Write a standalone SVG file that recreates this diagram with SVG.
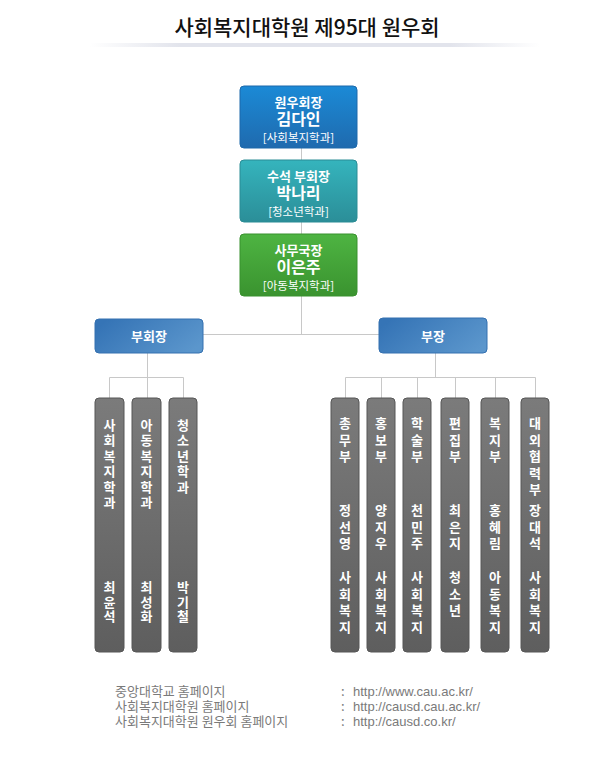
<svg xmlns="http://www.w3.org/2000/svg" width="612" height="763" viewBox="0 0 612 763">
<defs>
<linearGradient id="gBlue" x1="0" y1="0" x2="0" y2="1"><stop offset="0" stop-color="#1b8ad6"/><stop offset="1" stop-color="#1f6aae"/></linearGradient>
<linearGradient id="gTeal" x1="0" y1="0" x2="0" y2="1"><stop offset="0" stop-color="#35b4bd"/><stop offset="1" stop-color="#2b8e98"/></linearGradient>
<linearGradient id="gGreen" x1="0" y1="0" x2="0" y2="1"><stop offset="0" stop-color="#4eb442"/><stop offset="1" stop-color="#3a932f"/></linearGradient>
<linearGradient id="gVice" x1="0" y1="0.3" x2="1" y2="0.7"><stop offset="0" stop-color="#3574b6"/><stop offset="1" stop-color="#5b96cc"/></linearGradient>
<linearGradient id="gBar" x1="0" y1="0" x2="0" y2="1"><stop offset="0" stop-color="#7b7b7b"/><stop offset="1" stop-color="#5e5e5e"/></linearGradient>
<linearGradient id="gShadow" x1="0" y1="0" x2="1" y2="0"><stop offset="0" stop-color="#e2e4ec" stop-opacity="0"/><stop offset="0.2" stop-color="#e2e4ec"/><stop offset="0.8" stop-color="#e2e4ec"/><stop offset="1" stop-color="#e2e4ec" stop-opacity="0"/></linearGradient>
</defs>
<style>
text{font-family:"Noto Sans CJK KR","Noto Sans",sans-serif;}
.w{fill:#ffffff;text-anchor:middle;}
.l1{font-size:13px;font-weight:bold;}
.l2{font-size:16px;font-weight:bold;}
.l3{font-size:11.5px;}
.bar{fill:url(#gBar);stroke:#575757;stroke-width:1;}
.vt{fill:#ffffff;text-anchor:middle;font-size:13px;font-weight:bold;}
.conn{stroke:#c8c8c8;stroke-width:1;fill:none;}
.ft{fill:#7a7a7a;font-size:13px;}
.url{font-family:"Liberation Sans",sans-serif;font-size:13px;}
</style>
<rect x="0" y="0" width="612" height="763" fill="#ffffff"/>
<rect x="90" y="43" width="450" height="4" fill="url(#gShadow)"/>
<text x="307" y="35" text-anchor="middle" font-size="21" font-weight="500" fill="#111111">사회복지대학원 제95대 원우회</text>

<g id="connectors">
<line class="conn" x1="301.5" y1="148" x2="301.5" y2="160"/>
<line class="conn" x1="301.5" y1="222" x2="301.5" y2="234"/>
<line class="conn" x1="301.5" y1="296" x2="301.5" y2="334.5"/>
<line class="conn" x1="203" y1="334.5" x2="379" y2="334.5"/>
<line class="conn" x1="147.5" y1="353" x2="147.5" y2="398"/>
<line class="conn" x1="109.5" y1="377.5" x2="183.5" y2="377.5"/>
<line class="conn" x1="109.5" y1="377.5" x2="109.5" y2="398"/>
<line class="conn" x1="183.5" y1="377.5" x2="183.5" y2="398"/>
<line class="conn" x1="435.5" y1="353" x2="435.5" y2="377.5"/>
<line class="conn" x1="345.5" y1="377.5" x2="535.5" y2="377.5"/>
<line class="conn" x1="345.5" y1="377.5" x2="345.5" y2="398"/>
<line class="conn" x1="381.5" y1="377.5" x2="381.5" y2="398"/>
<line class="conn" x1="417.5" y1="377.5" x2="417.5" y2="398"/>
<line class="conn" x1="455.5" y1="377.5" x2="455.5" y2="398"/>
<line class="conn" x1="495.5" y1="377.5" x2="495.5" y2="398"/>
<line class="conn" x1="535.5" y1="377.5" x2="535.5" y2="398"/>
</g>

<g id="president">
<rect x="240" y="86" width="117" height="62" rx="4" fill="url(#gBlue)" stroke="#1d69ab"/>
<text class="w l1" x="298.5" y="107">원우회장</text>
<text class="w l2" x="298.5" y="125">김다인</text>
<text class="w l3" x="298.5" y="141.5">[사회복지학과]</text>
</g>
<g id="senior-vice">
<rect x="240" y="160" width="117" height="62" rx="4" fill="url(#gTeal)" stroke="#2a8c95"/>
<text class="w l1" x="298.5" y="181">수석 부회장</text>
<text class="w l2" x="298.5" y="199">박나리</text>
<text class="w l3" x="298.5" y="215.5">[청소년학과]</text>
</g>
<g id="secretary-general">
<rect x="240" y="234" width="117" height="62" rx="4" fill="url(#gGreen)" stroke="#39912e"/>
<text class="w l1" x="298.5" y="255">사무국장</text>
<text class="w l2" x="298.5" y="273">이은주</text>
<text class="w l3" x="298.5" y="289.5">[아동복지학과]</text>
</g>

<g id="vice-presidents">
<rect x="95" y="319" width="108" height="34" rx="4" fill="url(#gVice)" stroke="#3470b0"/>
<text class="w l1" x="149" y="340.5">부회장</text>
</g>
<g id="department-heads">
<rect x="379" y="318" width="108" height="35" rx="4" fill="url(#gVice)" stroke="#3470b0"/>
<text class="w l1" x="433" y="340.5">부장</text>
</g>

<g id="vp-social">
<rect class="bar" x="95" y="398" width="29" height="254" rx="4"/>
<text class="vt"><tspan x="109.5" y="430">사</tspan><tspan x="109.5" dy="15.4">회</tspan><tspan x="109.5" dy="15.4">복</tspan><tspan x="109.5" dy="15.4">지</tspan><tspan x="109.5" dy="15.4">학</tspan><tspan x="109.5" dy="15.4">과</tspan></text>
<text class="vt"><tspan x="109.5" y="592">최</tspan><tspan x="109.5" dy="14.5">윤</tspan><tspan x="109.5" dy="14.5">석</tspan></text>
</g>
<g id="vp-child">
<rect class="bar" x="132" y="398" width="29" height="254" rx="4"/>
<text class="vt"><tspan x="146.5" y="430">아</tspan><tspan x="146.5" dy="15.4">동</tspan><tspan x="146.5" dy="15.4">복</tspan><tspan x="146.5" dy="15.4">지</tspan><tspan x="146.5" dy="15.4">학</tspan><tspan x="146.5" dy="15.4">과</tspan></text>
<text class="vt"><tspan x="146.5" y="592">최</tspan><tspan x="146.5" dy="14.5">성</tspan><tspan x="146.5" dy="14.5">화</tspan></text>
</g>
<g id="vp-youth">
<rect class="bar" x="169" y="398" width="28" height="254" rx="4"/>
<text class="vt"><tspan x="183" y="430">청</tspan><tspan x="183" dy="15.4">소</tspan><tspan x="183" dy="15.4">년</tspan><tspan x="183" dy="15.4">학</tspan><tspan x="183" dy="15.4">과</tspan></text>
<text class="vt"><tspan x="183" y="592">박</tspan><tspan x="183" dy="14.5">기</tspan><tspan x="183" dy="14.5">철</tspan></text>
</g>

<g id="dept-general">
<rect class="bar" x="331" y="398" width="28" height="254" rx="4"/>
<text class="vt"><tspan x="345" y="428">총</tspan><tspan x="345" dy="16.7">무</tspan><tspan x="345" dy="16.7">부</tspan></text>
<text class="vt"><tspan x="345" y="515">정</tspan><tspan x="345" dy="16.7">선</tspan><tspan x="345" dy="16.7">영</tspan></text>
<text class="vt"><tspan x="345" y="582">사</tspan><tspan x="345" dy="16.7">회</tspan><tspan x="345" dy="16.7">복</tspan><tspan x="345" dy="16.7">지</tspan></text>
</g>
<g id="dept-pr">
<rect class="bar" x="367" y="398" width="28" height="254" rx="4"/>
<text class="vt"><tspan x="381" y="428">홍</tspan><tspan x="381" dy="16.7">보</tspan><tspan x="381" dy="16.7">부</tspan></text>
<text class="vt"><tspan x="381" y="515">양</tspan><tspan x="381" dy="16.7">지</tspan><tspan x="381" dy="16.7">우</tspan></text>
<text class="vt"><tspan x="381" y="582">사</tspan><tspan x="381" dy="16.7">회</tspan><tspan x="381" dy="16.7">복</tspan><tspan x="381" dy="16.7">지</tspan></text>
</g>
<g id="dept-academic">
<rect class="bar" x="403" y="398" width="28" height="254" rx="4"/>
<text class="vt"><tspan x="417" y="428">학</tspan><tspan x="417" dy="16.7">술</tspan><tspan x="417" dy="16.7">부</tspan></text>
<text class="vt"><tspan x="417" y="515">천</tspan><tspan x="417" dy="16.7">민</tspan><tspan x="417" dy="16.7">주</tspan></text>
<text class="vt"><tspan x="417" y="582">사</tspan><tspan x="417" dy="16.7">회</tspan><tspan x="417" dy="16.7">복</tspan><tspan x="417" dy="16.7">지</tspan></text>
</g>
<g id="dept-editorial">
<rect class="bar" x="441" y="398" width="28" height="254" rx="4"/>
<text class="vt"><tspan x="455" y="428">편</tspan><tspan x="455" dy="16.7">집</tspan><tspan x="455" dy="16.7">부</tspan></text>
<text class="vt"><tspan x="455" y="515">최</tspan><tspan x="455" dy="16.7">은</tspan><tspan x="455" dy="16.7">지</tspan></text>
<text class="vt"><tspan x="455" y="582">청</tspan><tspan x="455" dy="16.7">소</tspan><tspan x="455" dy="16.7">년</tspan></text>
</g>
<g id="dept-welfare">
<rect class="bar" x="481" y="398" width="28" height="254" rx="4"/>
<text class="vt"><tspan x="495" y="428">복</tspan><tspan x="495" dy="16.7">지</tspan><tspan x="495" dy="16.7">부</tspan></text>
<text class="vt"><tspan x="495" y="515">홍</tspan><tspan x="495" dy="16.7">혜</tspan><tspan x="495" dy="16.7">림</tspan></text>
<text class="vt"><tspan x="495" y="582">아</tspan><tspan x="495" dy="16.7">동</tspan><tspan x="495" dy="16.7">복</tspan><tspan x="495" dy="16.7">지</tspan></text>
</g>
<g id="dept-external">
<rect class="bar" x="521" y="398" width="28" height="254" rx="4"/>
<text class="vt"><tspan x="535" y="428">대</tspan><tspan x="535" dy="16.5">외</tspan><tspan x="535" dy="16.5">협</tspan><tspan x="535" dy="16.5">력</tspan><tspan x="535" dy="16.5">부</tspan></text>
<text class="vt"><tspan x="535" y="515">장</tspan><tspan x="535" dy="16.7">대</tspan><tspan x="535" dy="16.7">석</tspan></text>
<text class="vt"><tspan x="535" y="582">사</tspan><tspan x="535" dy="16.7">회</tspan><tspan x="535" dy="16.7">복</tspan><tspan x="535" dy="16.7">지</tspan></text>
</g>

<g id="footer">
<text class="ft" x="115" y="696">중앙대학교 홈페이지</text>
<text class="ft" x="115" y="711">사회복지대학원 홈페이지</text>
<text class="ft" x="115" y="726">사회복지대학원 원우회 홈페이지</text>
<text class="ft" x="341" y="696">:</text>
<text class="ft" x="341" y="711">:</text>
<text class="ft" x="341" y="726">:</text>
<text class="ft url" x="353" y="696">http://www.cau.ac.kr/</text>
<text class="ft url" x="353" y="711">http://causd.cau.ac.kr/</text>
<text class="ft url" x="353" y="726">http://causd.co.kr/</text>
</g>
</svg>
